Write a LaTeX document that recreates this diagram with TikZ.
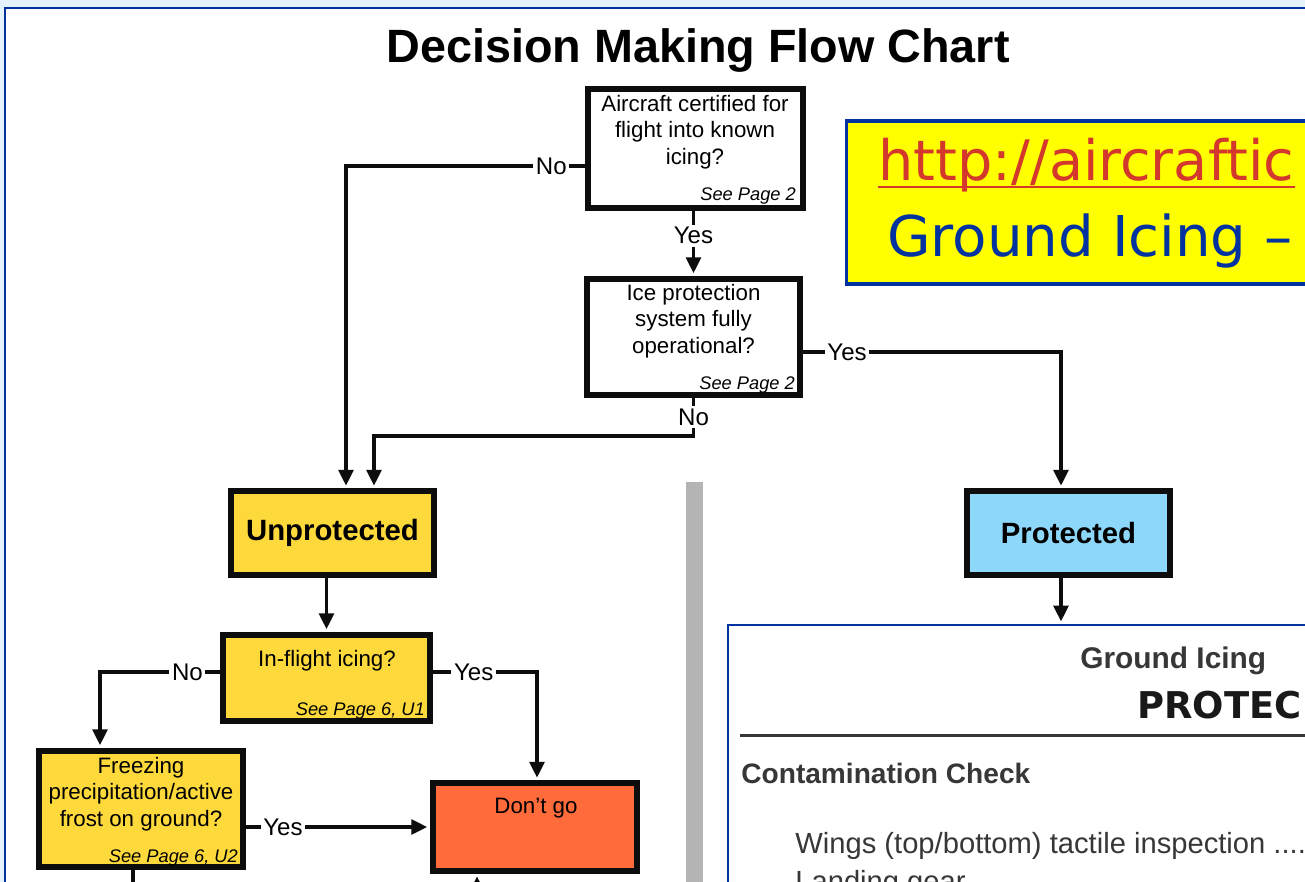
\documentclass[tikz,border=0pt]{standalone}
\usepackage{fontspec}
\setmainfont{Liberation Sans}
\newfontfamily\notefont{DejaVu Sans}
\usepackage{xcolor}
\usepackage{tikz}
\usetikzlibrary{arrows.meta,positioning,calc}

\definecolor{frameblue}{RGB}{0,51,160}
\definecolor{pageblue}{RGB}{229,243,253}
\definecolor{unprotyellow}{RGB}{253,217,60}
\definecolor{protblue}{RGB}{141,216,250}
\definecolor{stoporange}{RGB}{255,107,58}
\definecolor{notered}{RGB}{212,56,44}
\definecolor{notefill}{RGB}{255,255,0}
\definecolor{bargray}{RGB}{180,180,180}
\definecolor{panelgray}{RGB}{55,55,55}

\begin{document}
\begin{tikzpicture}[x=0.02cm, y=-0.02cm,
    qbox/.style={rectangle, draw=black!95, line width=3.4pt, fill=white, inner sep=0pt},
    ybox/.style={qbox, fill=unprotyellow},
    qtext/.style={align=center, inner sep=0pt, font=\fontsize{12.7}{15.2}\selectfont},
    seepage/.style={anchor=base east, inner sep=0pt, font=\fontsize{10.4}{12}\selectfont\itshape},
    outcome/.style={qbox, minimum width=4.05cm, minimum height=1.67cm, font=\fontsize{16.7}{20}\selectfont\bfseries},
    lbl/.style={fill=white, inner xsep=1.5pt, inner ysep=1.5pt, font=\fontsize{13.7}{16}\selectfont},
    conn/.style={draw=black!95, line width=1.8pt},
    flow/.style={conn, -{Triangle[length=9pt,width=8.5pt]}, shorten >=1.5pt},
    paneltext/.style={anchor=base west, inner sep=0pt, text=panelgray}]

    \clip (0,0) rectangle (1305,882);
    \fill[pageblue] (0,0) rectangle (1305,882);
    \draw[frameblue, line width=1.2pt, fill=white] (5,8) rectangle (1330,910);

    % Title
    \node[anchor=base, inner sep=0pt, font=\fontsize{26.6}{30}\selectfont\bfseries] (title) at (698,63) {Decision Making Flow Chart};

    % Row 1: certification and ice protection
    \node[qbox, minimum width=4.31cm, minimum height=2.39cm] (cert) at (695.5,148.5) {};
    \node[qtext] (certq) at (695,132) {Aircraft certified for\\flight into known\\icing?};
    \node[seepage] at ([xshift=-0.2cm, yshift=0.22cm]cert.south east) {See Page 2};

    \node[qbox, minimum width=4.27cm, minimum height=2.33cm] (ice) at (693.5,337) {};
    \node[qtext] (iceq) at (693.5,321) {Ice protection\\system fully\\operational?};
    \node[seepage] at ([xshift=-0.16cm, yshift=0.18cm]ice.south east) {See Page 2};

    % Row 2: outcome of the check
    \node[outcome, fill=unprotyellow] (unprot) at (332.5,533) {Unprotected};
    \node[outcome, fill=protblue] (prot) at (1068.5,533) {Protected};

    % Divider and the protected panel
    \fill[bargray] (686,482) rectangle (703,900);
    \node[draw=frameblue, line width=1.1pt, fill=white, anchor=north west,
          minimum width=14cm, minimum height=6cm] (panel) at (727,624) {};
    \node[paneltext, font=\fontsize{17}{20}\selectfont\bfseries] (gihead) at (1080,668) {Ground Icing};
    \node[paneltext, text=black!90, font=\notefont\fontsize{21}{25}\selectfont\bfseries] (protec) at (1137,718) {PROTEC};
    \draw[panelgray, line width=1.7pt] (740,735) -- (1330,735);
    \node[paneltext, font=\fontsize{16}{19}\selectfont\bfseries] (contam) at (741,783) {Contamination Check};
    \node[paneltext, font=\fontsize{16.6}{20}\selectfont] (wings) at (795,853) {Wings (top/bottom) tactile inspection ....};
    \node[paneltext, font=\fontsize{16.6}{20}\selectfont] (gear) at (795,891) {Landing gear};

    % Row 3: unprotected branch
    \node[ybox, minimum width=4.15cm, minimum height=1.73cm] (inflight) at (326.5,678) {};
    \node[qtext] (inflightq) at (327,661) {In-flight icing?};
    \node[seepage] at ([xshift=-0.16cm, yshift=0.18cm]inflight.south east) {See Page 6, U1};

    \node[ybox, minimum width=4.09cm, minimum height=2.33cm] (freeze) at (141,809) {};
    \node[qtext] (freezeq) at (141,794) {Freezing\\precipitation/active\\frost on ground?};
    \node[seepage] at ([xshift=-0.16cm, yshift=0.16cm]freeze.south east) {See Page 6, U2};

    \node[qbox, fill=stoporange, minimum width=4.09cm, minimum height=1.75cm] (dontgo) at (535,827) {};
    \node[qtext] (dontgoq) at (536,808) {Don’t go};

    % Note box
    \node[draw=frameblue, line width=1.9pt, fill=notefill, anchor=north west,
          minimum width=10cm, minimum height=3.26cm] (note) at (845,119.5) {};
    \node[anchor=base west, inner sep=0pt, text=notered, font=\notefont\fontsize{31.7}{36}\selectfont] (url) at (878,180) {http://aircraftic};
    \draw[notered, line width=1.6pt] ([yshift=-0.14cm]url.base west) -- ([yshift=-0.14cm]url.base east);
    \node[anchor=base west, inner sep=0pt, text=frameblue, font=\notefont\fontsize{32}{36}\selectfont] (sub) at (887,256) {Ground Icing –};

    % Connectors
    \coordinate (nocorner) at (346,166);
    \coordinate (nojoin) at (374,436);
    \coordinate (pdrop) at (1061,352);
    \coordinate (ifno) at (100,672);
    \coordinate (ifyes) at (537,672);
    \coordinate (fzout) at (133,910);
    \coordinate (dgin) at (477,910);

    \draw[flow] (cert.west |- nocorner) -- node[lbl, pos=0.14] {No} (nocorner) -- (nocorner |- unprot.north);
    \draw[flow] (cert.south -| ice.north) -- node[lbl, pos=0.38] {Yes} (ice.north);
    \draw[flow] (ice.east |- pdrop) -- node[lbl, pos=0.17] {Yes} (pdrop) -- (pdrop |- prot.north);
    \draw[flow] (ice.south) -- node[lbl] {No} (ice.south |- nojoin) -- (nojoin) -- (nojoin |- unprot.north);
    \draw[flow] (pdrop |- prot.south) -- (pdrop |- panel.north);
    \draw[flow] (inflight.north |- unprot.south) -- (inflight.north);
    \draw[flow] (inflight.west |- ifno) -- node[lbl, pos=0.27] {No} (ifno) -- (ifno |- freeze.north);
    \draw[flow] (inflight.east |- ifyes) -- node[lbl, pos=0.39] {Yes} (ifyes) -- (ifyes |- dontgo.north);
    \draw[flow] (freeze.east |- dontgo.west) -- node[lbl, pos=0.2] {Yes} (dontgo.west);
    \draw[conn] (freeze.south -| fzout) -- (fzout);
    \draw[flow] (dgin) -- (dgin |- dontgo.south);
\end{tikzpicture}
\end{document}
